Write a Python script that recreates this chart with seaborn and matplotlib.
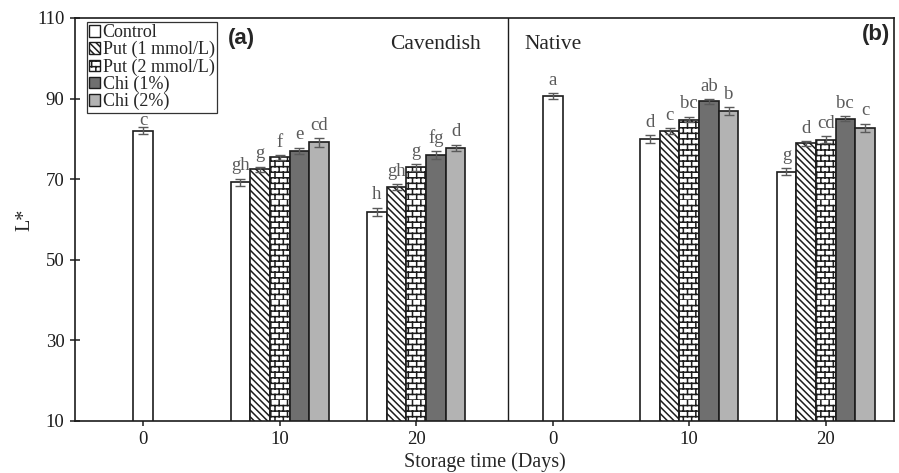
import warnings
import numpy as np
import pandas as pd
import matplotlib
matplotlib.use("Agg")
import matplotlib.pyplot as plt
from matplotlib import hatch as mhatch
from matplotlib.path import Path
from matplotlib.patches import Patch
import seaborn as sns

warnings.filterwarnings("ignore")

# ---- data -------------------------------------------------------------
treatments = ["Control", "Put (1 mmol/L)", "Put (2 mmol/L)", "Chi (1%)", "Chi (2%)"]
slots = ["Cavendish 0", "Cavendish 10", "Cavendish 20", "Native 0", "Native 10", "Native 20"]
day_labels = ["0", "10", "20", "0", "10", "20"]

cav_0 = [82.0]
cav_10 = [69.2, 72.5, 75.4, 77.0, 79.1]
cav_20 = [61.9, 68.0, 72.9, 76.0, 77.8]
nat_0 = [90.7]
nat_10 = [79.9, 82.0, 84.8, 89.3, 86.9]
nat_20 = [71.9, 78.9, 79.8, 85.0, 82.8]

cav_0_err = [0.9]
cav_10_err = [0.9, 0.6, 0.6, 0.8, 1.0]
cav_20_err = [1.0, 0.8, 0.8, 1.0, 0.8]
nat_0_err = [0.7]
nat_10_err = [1.0, 0.7, 0.7, 0.6, 1.0]
nat_20_err = [0.8, 0.6, 0.9, 0.6, 1.0]

cav_0_sig = ["c"]
cav_10_sig = ["gh", "g", "f", "e", "cd"]
cav_20_sig = ["h", "gh", "g", "fg", "d"]
nat_0_sig = ["a"]
nat_10_sig = ["d", "c", "bc", "ab", "b"]
nat_20_sig = ["g", "d", "cd", "bc", "c"]


def frame(slot, values, errs, sigs, names):
    return pd.DataFrame({"slot": slot, "treatment": names, "L": values,
                         "err": errs, "sig": sigs})


df_day0 = pd.concat([
    frame("Cavendish 0", cav_0, cav_0_err, cav_0_sig, treatments[:1]),
    frame("Native 0", nat_0, nat_0_err, nat_0_sig, treatments[:1]),
], ignore_index=True)
df_later = pd.concat([
    frame("Cavendish 10", cav_10, cav_10_err, cav_10_sig, treatments),
    frame("Cavendish 20", cav_20, cav_20_err, cav_20_sig, treatments),
    frame("Native 10", nat_10, nat_10_err, nat_10_sig, treatments),
    frame("Native 20", nat_20, nat_20_err, nat_20_sig, treatments),
], ignore_index=True)
df_all = pd.concat([df_day0, df_later], ignore_index=True)


# ---- brick hatch ("B") ------------------------------------------------
class BrickHatch(mhatch.HatchPatternBase):
    def __init__(self, hatch, density):
        rows = int(hatch.count("B") * density)
        rows -= rows % 2
        self.rows = rows
        self.cols = int(round(rows * 0.67))
        self.num_vertices = (2 * rows + 2 * rows * self.cols) if rows else 0

    def set_vertices_and_codes(self, vertices, codes):
        k = 0
        for i in range(self.rows):
            y0 = i / self.rows
            y1 = (i + 1) / self.rows
            vertices[k] = (0.0, y0)
            vertices[k + 1] = (1.0, y0)
            codes[k] = Path.MOVETO
            codes[k + 1] = Path.LINETO
            k += 2
            shift = 0.5 * (i % 2)
            for j in range(self.cols):
                x = (j + shift) / self.cols
                vertices[k] = (x, y0)
                vertices[k + 1] = (x, y1)
                codes[k] = Path.MOVETO
                codes[k + 1] = Path.LINETO
                k += 2


if BrickHatch not in mhatch._hatch_types:
    mhatch._hatch_types.append(BrickHatch)

# ---- style --------------------------------------------------------------
sns.set_style("ticks")
plt.rcParams["font.family"] = ["Liberation Serif", "DejaVu Serif"]
plt.rcParams["hatch.linewidth"] = 1.1
plt.rcParams["axes.linewidth"] = 1.2

fills = {"Control": "white", "Put (1 mmol/L)": "white", "Put (2 mmol/L)": "white",
         "Chi (1%)": "#6f6f6f", "Chi (2%)": "#b3b3b3"}
hatches = {"Control": None, "Put (1 mmol/L)": "\\\\\\\\\\",
           "Put (2 mmol/L)": "BBB", "Chi (1%)": None, "Chi (2%)": None}
edge = "#1c1c1c"
text_gray = "#5a5a5a"
# letter baseline height above the error-bar cap, in points
letter_pad = 6.0
letter_pad_tight = {"Cavendish 0": 1.5}   # sits just under the legend box

fig = plt.figure(figsize=(8.99, 4.73), dpi=100)
ax = fig.add_axes([0.0834, 0.110, 0.911, 0.852])

sns.barplot(data=df_later, x="slot", y="L", hue="treatment", order=slots,
            hue_order=treatments, palette=fills, width=0.72, gap=0,
            saturation=1, edgecolor=edge, linewidth=1.2, errorbar=None,
            legend=False, ax=ax)
sns.barplot(data=df_day0, x="slot", y="L", order=slots, color="white",
            width=0.144, saturation=1, edgecolor=edge, linewidth=1.2,
            errorbar=None, ax=ax)

# hatches, error bars and significance letters for every bar drawn
for bar in ax.patches:
    h = bar.get_height()
    if not np.isfinite(h) or h <= 0:
        continue
    cx = bar.get_x() + bar.get_width() / 2
    slot = slots[int(round(cx))]
    row = df_all[(df_all.slot == slot) & np.isclose(df_all.L, h)].iloc[0]
    if hatches[row.treatment]:
        bar.set_hatch(hatches[row.treatment])
    ax.errorbar(cx, h, yerr=row.err, fmt="none", ecolor=text_gray,
                elinewidth=1.0, capsize=3.5, capthick=1.0, zorder=4)
    ax.annotate(row.sig, xy=(cx, h + row.err),
                xytext=(0, letter_pad_tight.get(slot, letter_pad)),
                textcoords="offset points", ha="center", va="baseline",
                fontsize=13.5, color=text_gray)

ax.set_ylim(10, 110)
ax.set_yticks([10, 30, 50, 70, 90, 110])
ax.set_xlim(-0.5, 5.5)
ax.set_xticks(range(len(slots)))
ax.set_xticklabels(day_labels)
ax.tick_params(axis="both", direction="inout", length=7, width=1.1,
               labelsize=13.5, colors="#1c1c1c", pad=4)
ax.set_xlabel("Storage time (Days)", fontsize=14.5, labelpad=3)
ax.set_ylabel("L*", fontsize=14.5, labelpad=2)
for s in ax.spines.values():
    s.set_visible(True)
    s.set_color("#1c1c1c")

# divider between the two cultivars
ax.axvline(2.67, color="#1c1c1c", linewidth=1.0)

ax.text(0.203, 0.948, "(a)", transform=ax.transAxes, fontsize=16,
        fontweight="bold", family=["Liberation Sans", "DejaVu Sans"],
        ha="center", va="center")
ax.text(0.44, 0.935, "Cavendish", transform=ax.transAxes, fontsize=15.5,
        ha="center", va="center")
ax.text(0.549, 0.935, "Native", transform=ax.transAxes, fontsize=15.5,
        ha="left", va="center")
ax.text(0.995, 0.960, "(b)", transform=ax.transAxes, fontsize=16,
        fontweight="bold", family=["Liberation Sans", "DejaVu Sans"],
        ha="right", va="center")

handles = [Patch(facecolor=fills[t], edgecolor=edge, hatch=hatches[t],
                 linewidth=1.0, label=t) for t in treatments]
leg = ax.legend(handles=handles, loc="upper left",
                bbox_to_anchor=(0.0147, 0.990), frameon=True, fancybox=False,
                framealpha=1, edgecolor="#333333", fontsize=13,
                handlelength=0.6, handleheight=0.6, handletextpad=0.15,
                labelspacing=0.0, borderpad=0.12, borderaxespad=0)
leg.get_frame().set_linewidth(0.9)

fig.savefig("out.png", dpi=100)
